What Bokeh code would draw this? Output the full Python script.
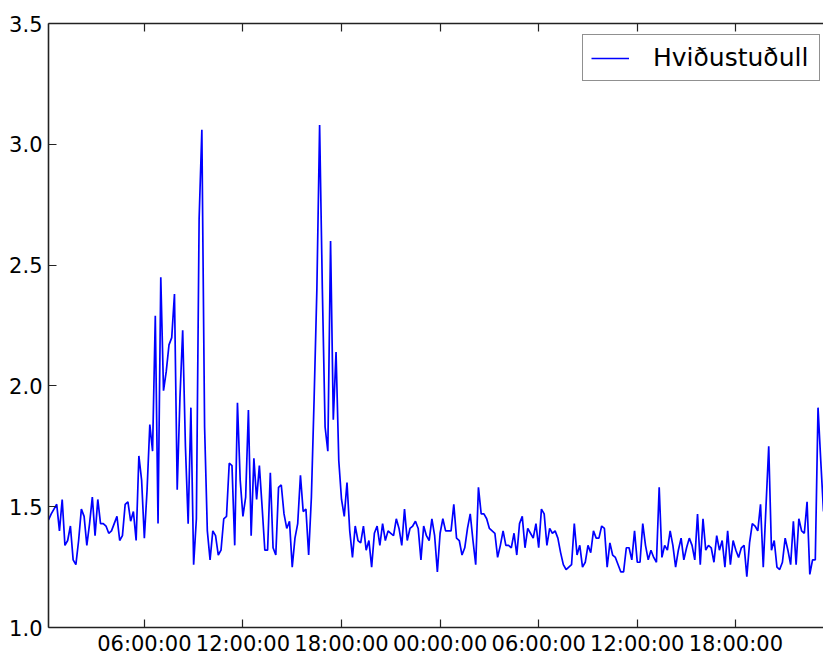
import pandas as pd
from bokeh.plotting import figure
from bokeh.models import (FixedTicker, DatetimeTickFormatter, PrintfTickFormatter,
                          DatetimeAxis, Legend, LegendItem, Range1d, ColumnDataSource)
from bokeh.embed import file_html
from bokeh.resources import INLINE

# ---- data (10-minute values) ----
series_label = "Hviðustuðull"
start_time = "2015-03-01 00:10"
step = "10min"

gust_day1_0010_0800 = [1.445, 1.47, 1.49, 1.51, 1.40, 1.53, 1.34, 1.36, 1.42, 1.28, 1.26, 1.36,
                       1.49, 1.46, 1.34, 1.43, 1.54, 1.38, 1.53, 1.43, 1.43, 1.42, 1.39, 1.40,
                       1.43, 1.46, 1.36, 1.38, 1.51, 1.52, 1.44, 1.48, 1.36, 1.71, 1.61, 1.37,
                       1.57, 1.84, 1.73, 2.29, 1.43, 2.45, 1.98, 2.06, 2.17, 2.20, 2.38, 1.57]
gust_day1_0810_1600 = [1.95, 2.23, 1.75, 1.43, 1.91, 1.26, 1.45, 2.69, 3.06, 1.83, 1.40, 1.28,
                       1.40, 1.38, 1.30, 1.32, 1.45, 1.46, 1.68, 1.67, 1.34, 1.93, 1.61, 1.46,
                       1.54, 1.90, 1.38, 1.70, 1.53, 1.67, 1.50, 1.32, 1.32, 1.64, 1.33, 1.30,
                       1.58, 1.59, 1.47, 1.41, 1.44, 1.25, 1.37, 1.43, 1.63, 1.48, 1.49]
gust_day1_1610_2400 = [1.30, 1.54, 1.95, 2.40, 3.08, 2.40, 1.83, 1.73, 2.60, 1.86, 2.14, 1.69,
                       1.53, 1.46, 1.60, 1.40, 1.29, 1.42, 1.36, 1.35, 1.42, 1.32, 1.36, 1.25,
                       1.39, 1.42, 1.34, 1.43, 1.36, 1.40, 1.39, 1.38, 1.45, 1.41, 1.34, 1.49,
                       1.36, 1.41, 1.42, 1.44, 1.41, 1.28, 1.42, 1.38, 1.36, 1.45, 1.38, 1.23]
gust_day2_0010_0800 = [1.39, 1.45, 1.40, 1.40, 1.40, 1.51, 1.37, 1.36, 1.30, 1.33, 1.41, 1.47,
                       1.36, 1.26, 1.58, 1.47, 1.47, 1.45, 1.41, 1.40, 1.39, 1.29, 1.34, 1.40,
                       1.34, 1.34, 1.33, 1.39, 1.30, 1.43, 1.46, 1.33, 1.41, 1.39, 1.37, 1.43,
                       1.33, 1.49, 1.47, 1.34, 1.41, 1.39, 1.40, 1.37, 1.31, 1.26, 1.24, 1.25]
gust_day2_0810_1600 = [1.26, 1.43, 1.30, 1.34, 1.25, 1.27, 1.34, 1.31, 1.40, 1.37, 1.37, 1.42,
                       1.41, 1.25, 1.35, 1.30, 1.29, 1.26, 1.23, 1.23, 1.33, 1.33, 1.28, 1.40,
                       1.27, 1.27, 1.43, 1.34, 1.28, 1.32, 1.29, 1.27, 1.58, 1.29, 1.34, 1.32,
                       1.40, 1.34, 1.25, 1.32, 1.37, 1.28, 1.33, 1.37, 1.34, 1.28, 1.47]
gust_day2_1610_2320 = [1.26, 1.45, 1.32, 1.34, 1.33, 1.27, 1.38, 1.32, 1.36, 1.25, 1.40, 1.26,
                       1.36, 1.32, 1.29, 1.33, 1.34, 1.21, 1.35, 1.43, 1.42, 1.40, 1.51, 1.25,
                       1.50, 1.75, 1.32, 1.36, 1.25, 1.24, 1.27, 1.37, 1.32, 1.26, 1.44, 1.26,
                       1.45, 1.40, 1.39, 1.52, 1.22, 1.28, 1.28, 1.91, 1.69, 1.48]

x_tick_times = ["2015-03-01 06:00", "2015-03-01 12:00", "2015-03-01 18:00",
                "2015-03-02 00:00", "2015-03-02 06:00", "2015-03-02 12:00",
                "2015-03-02 18:00"]
y_ticks = [1.0, 1.5, 2.0, 2.5, 3.0, 3.5]

gust = (gust_day1_0010_0800 + gust_day1_0810_1600 + gust_day1_1610_2400 +
        gust_day2_0010_0800 + gust_day2_0810_1600 + gust_day2_1610_2320)
times = pd.date_range(start_time, periods=len(gust), freq=step)
source = ColumnDataSource(data=dict(t=times, v=gust))

x_tick_ms = [pd.Timestamp(s).value / 1e6 for s in x_tick_times]

FONT = "DejaVu Sans"
TICK_FS = "21px"
SPINE = "#222222"

p = figure(width=823, height=658, x_axis_type="datetime",
           x_range=Range1d(times[0], times[-1]), y_range=Range1d(y_ticks[0], y_ticks[-1]),
           output_backend="svg", toolbar_location=None,
           min_border_left=48, min_border_right=0, min_border_top=23, min_border_bottom=26)
p.outline_line_color = None
p.grid.visible = False
p.background_fill_color = "white"
p.border_fill_color = "white"

fmt = DatetimeTickFormatter(hours="%H:%M:%S", hourmin="%H:%M:%S", days="%H:%M:%S",
                            minutes="%H:%M:%S", minsec="%H:%M:%S")

xa = p.xaxis[0]
xa.ticker = FixedTicker(ticks=x_tick_ms)
xa.formatter = fmt
ya = p.yaxis[0]
ya.ticker = FixedTicker(ticks=y_ticks)
ya.formatter = PrintfTickFormatter(format="%.1f")

for ax in (xa, ya):
    ax.axis_line_color = SPINE
    ax.axis_line_width = 1.6
    ax.major_tick_line_color = SPINE
    ax.major_tick_line_width = 1.2
    ax.major_tick_in = 8
    ax.major_tick_out = 0
    ax.minor_tick_line_color = None
    ax.major_label_text_font = FONT
    ax.major_label_text_font_size = TICK_FS
    ax.major_label_text_color = "black"
xa.major_label_standoff = 4
ya.major_label_standoff = 6

top = DatetimeAxis(ticker=FixedTicker(ticks=x_tick_ms), formatter=fmt)
top.axis_line_color = SPINE
top.axis_line_width = 1.6
top.major_tick_line_color = SPINE
top.major_tick_line_width = 1.2
top.major_tick_in = 8
top.major_tick_out = 0
top.minor_tick_line_color = None
top.major_label_text_font_size = "1px"
top.major_label_text_color = None
top.major_label_standoff = 0
p.add_layout(top, "above")

r = p.line("t", "v", source=source, line_color="#0000ff", line_width=1.7)

legend = Legend(items=[LegendItem(label=series_label, renderers=[r])],
                location=(534, 546))
legend.label_text_font = FONT
legend.label_text_font_size = "25px"
legend.label_text_color = "black"
legend.glyph_width = 38
legend.label_standoff = 24
legend.label_width = 158
legend.padding = 8
legend.margin = 0
legend.spacing = 0
legend.border_line_color = SPINE
legend.border_line_width = 1.3
legend.background_fill_color = "white"
legend.background_fill_alpha = 1.0
p.add_layout(legend)

open("out.html", "w").write(file_html(p, INLINE))
